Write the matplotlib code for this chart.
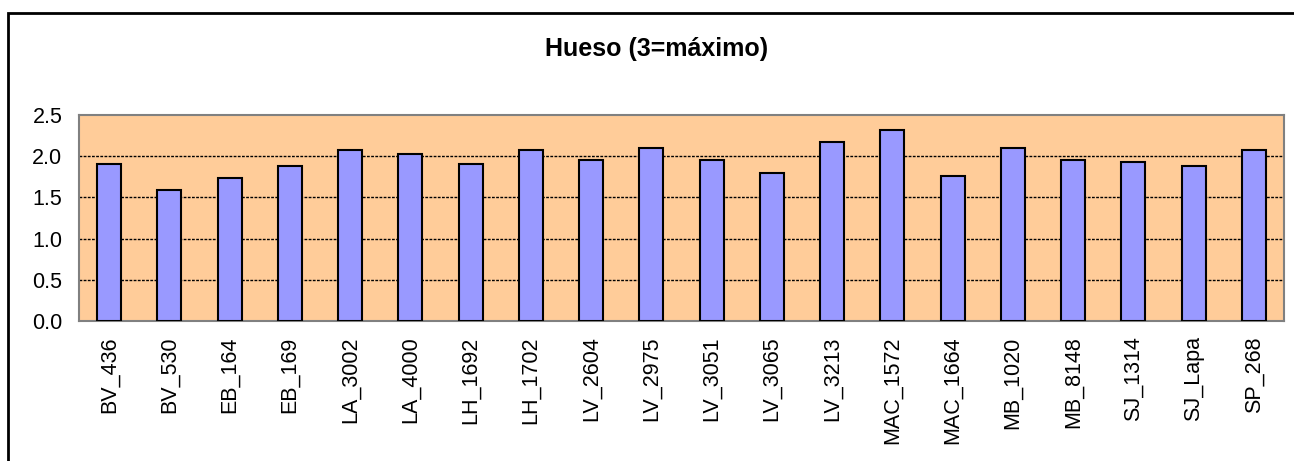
import matplotlib
matplotlib.use("Agg")
import matplotlib.pyplot as plt
from matplotlib.patches import Rectangle

categories = ["BV_436", "BV_530", "EB_164", "EB_169", "LA_3002", "LA_4000",
              "LH_1692", "LH_1702", "LV_2604", "LV_2975", "LV_3051", "LV_3065",
              "LV_3213", "MAC_1572", "MAC_1664", "MB_1020", "MB_8148", "SJ_1314",
              "SJ_Lapa", "SP_268"]
values = [1.90, 1.59, 1.73, 1.88, 2.07, 2.03,
          1.90, 2.07, 1.95, 2.10, 1.95, 1.80,
          2.17, 2.32, 1.76, 2.10, 1.95, 1.93,
          1.88, 2.07]
yticks = [0.0, 0.5, 1.0, 1.5, 2.0, 2.5]
title = "Hueso (3=máximo)"

plt.rcParams['font.family'] = ['Liberation Sans', 'DejaVu Sans']

W, H = 1294, 461
fig = plt.figure(figsize=(W / 100, H / 100), dpi=100)
fig.patch.set_facecolor("white")

# outer chart border
fig.patches.append(Rectangle((8 / W, -0.05), 1.2, (H - 13) / H + 0.05,
                             transform=fig.transFigure, fill=False,
                             edgecolor="black", linewidth=2, zorder=10))

left, right, top, bottom = 79, 1284, 115, 321
ax = fig.add_axes([left / W, 1 - bottom / H, (right - left) / W, (bottom - top) / H])
ax.set_facecolor("#FFCC99")

x = list(range(len(categories)))
ax.bar(x, values, width=0.4, color="#9999FF", edgecolor="black", linewidth=1.5, zorder=3)

ax.set_xlim(-0.5, len(categories) - 0.5)
ax.set_ylim(0, 2.5)
ax.set_yticks(yticks)
ax.set_yticklabels([f"{t:.1f}" for t in yticks], fontsize=15.5)
ax.set_xticks(x)
ax.set_xticklabels(categories, rotation=90, fontsize=15.5)
ax.tick_params(axis="both", length=0)
ax.tick_params(axis="x", pad=11)
ax.tick_params(axis="y", pad=12)

for t in yticks[1:-1]:
    ax.axhline(t, color="black", linestyle=(0, (2, 1)), linewidth=1, zorder=1)

for s in ax.spines.values():
    s.set_color("#808080")
    s.set_linewidth(1.5)

fig.text((545 + 768) / 2 / W, 1 - 49 / H, title, ha="center", va="center",
         fontsize=18, fontweight="bold")

fig.savefig("out.png", dpi=100)
